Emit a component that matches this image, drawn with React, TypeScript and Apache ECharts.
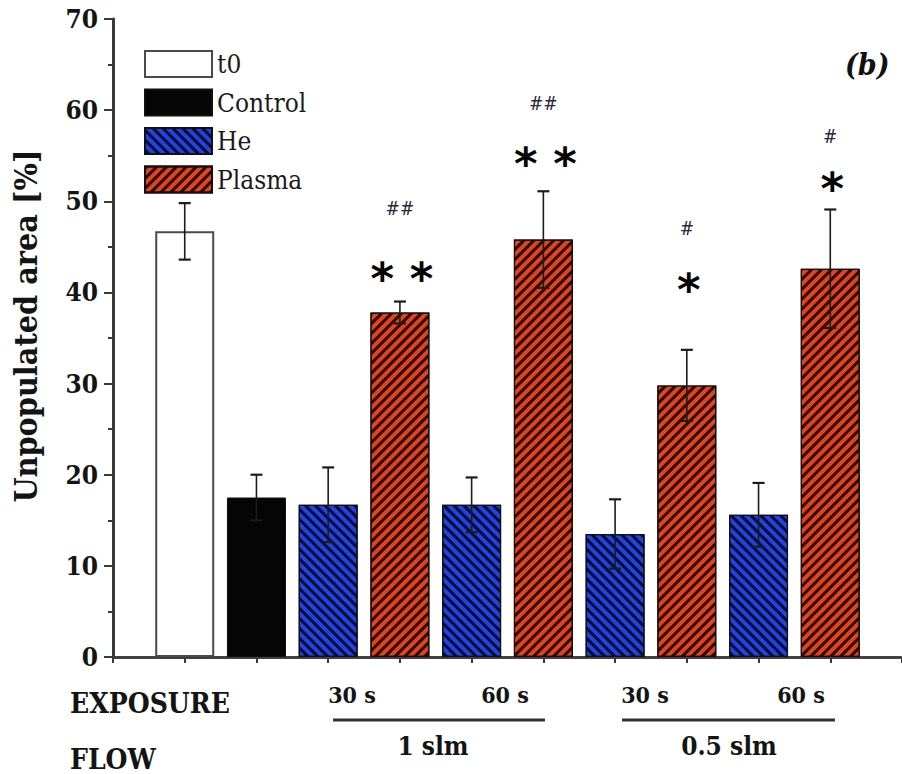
import { useEffect, useRef } from "react";
import * as echarts from "echarts";

// Group slots along the horizontal axis (0 .. 11 span)
const t0X = [1];
const t0Mean = [46.7];
const t0Err = [3.1];

const controlX = [2];
const controlMean = [17.5];
const controlErr = [2.5];

const heX = [3, 5, 7, 9];
const heMean = [16.7, 16.7, 13.5, 15.6];
const heErr = [4.1, 3.0, 3.8, 3.5];

const plasmaX = [4, 6, 8, 10];
const plasmaMean = [37.8, 45.8, 29.8, 42.6];
const plasmaErr = [1.2, 5.3, 3.9, 6.5];

// Significance marks above the plasma bars
const starText = ["* *", "* *", "*", "*"];
const starY = [42.2, 54.8, 41.0, 52.1];
const hashText = ["##", "##", "#", "#"];
const hashY = [49.3, 60.8, 47.1, 57.2];

const legendNames = ["t0", "Control", "He", "Plasma"];
const exposureLabels = ["30 s", "60 s", "30 s", "60 s"];
const flowLabels = ["1 slm", "0.5 slm"];

const SERIF = "DejaVu Serif Condensed, DejaVu Serif";
const STAR_FONT = "DejaVu Sans";
const BLUE = "#2142e4";
const RED = "#e2431d";
const AXIS = "#3a3a3a";

const pairs = (xs: number[], ys: number[]) => xs.map((x, i) => [x, ys[i]]);
const triples = (xs: number[], ys: number[], es: number[]) =>
  xs.map((x, i) => [x, ys[i], es[i]]);

export default function App() {
  const ref = useRef<HTMLDivElement>(null);

  useEffect(() => {
    if (!ref.current) return;
    const chart = echarts.init(ref.current, null, { renderer: "svg" });

    const errData = [
      ...triples(t0X, t0Mean, t0Err),
      ...triples(controlX, controlMean, controlErr),
      ...triples(heX, heMean, heErr),
      ...triples(plasmaX, plasmaMean, plasmaErr),
    ];

    const markData = [
      ...plasmaX.map((x, i) => [x, starY[i], 0, i]),
      ...plasmaX.map((x, i) => [x, hashY[i], 1, i]),
    ];

    const barCommon = {
      type: "bar" as const,
      barWidth: 59,
      barGap: "-100%",
      xAxisIndex: 0,
      yAxisIndex: 0,
    };

    const option: any = {
      animation: false,
      backgroundColor: "#ffffff",
      grid: { left: 113, top: 19, right: 0, bottom: 117, outerBoundsMode: "none", containLabel: false },
      legend: {
        data: legendNames,
        orient: "vertical",
        left: 144,
        top: 50,
        padding: 0,
        itemWidth: 67,
        itemHeight: 26,
        itemGap: 10.5,
        icon: "rect",
        textStyle: { fontFamily: SERIF, fontSize: 26, color: "#1a1a1a" },
      },
      xAxis: [
        {
          type: "value",
          min: 0,
          max: 11,
          interval: 1,
          position: "bottom",
          axisLine: { show: true, lineStyle: { color: AXIS, width: 2.5 } },
          axisTick: { show: false },
          axisLabel: { show: false },
          splitLine: { show: false },
        },
        {
          type: "value",
          min: 0,
          max: 11,
          interval: 1,
          position: "top",
          axisLine: { show: true, lineStyle: { color: AXIS, width: 2.5 } },
          axisTick: { show: true, inside: true, length: 6, lineStyle: { color: AXIS, width: 2 } },
          axisLabel: { show: false },
          splitLine: { show: false },
        },
      ],
      yAxis: [
        {
          type: "value",
          min: 0,
          max: 70,
          interval: 10,
          position: "left",
          name: "Unpopulated area [%]",
          nameLocation: "middle",
          nameRotate: 90,
          nameGap: 71,
          nameTextStyle: {
            fontFamily: SERIF,
            fontWeight: "bold",
            fontSize: 32,
            color: "#141414",
            padding: [0, 0, 0, 24],
          },
          axisLine: { show: true, lineStyle: { color: AXIS, width: 3 } },
          axisTick: { show: true, inside: false, length: 9, lineStyle: { color: AXIS, width: 2 } },
          minorTick: { show: true, splitNumber: 2, length: 5, lineStyle: { color: AXIS, width: 2 } },
          axisLabel: { fontFamily: SERIF, fontWeight: "bold", fontSize: 26, color: "#141414", margin: 15 },
          splitLine: { show: false },
        },
        {
          type: "value",
          min: 0,
          max: 70,
          interval: 10,
          position: "right",
          axisLine: { show: true, lineStyle: { color: AXIS, width: 2.5 } },
          axisTick: { show: true, inside: true, length: 8, lineStyle: { color: AXIS, width: 2 } },
          minorTick: { show: true, splitNumber: 2, length: 4, lineStyle: { color: AXIS, width: 2 } },
          axisLabel: { show: false },
          splitLine: { show: false },
        },
      ],
      series: [
        {
          ...barCommon,
          name: "t0",
          data: pairs(t0X, t0Mean),
          itemStyle: { color: "#ffffff", borderColor: "#4a4a4a", borderWidth: 2 },
        },
        {
          ...barCommon,
          name: "Control",
          data: pairs(controlX, controlMean),
          itemStyle: { color: "#050505", borderColor: "#111", borderWidth: 1 },
        },
        {
          ...barCommon,
          name: "He",
          data: pairs(heX, heMean),
          itemStyle: {
            color: BLUE,
            borderColor: "#111",
            borderWidth: 1.2,
            decal: {
              symbol: "rect",
              symbolSize: 1,
              dashArrayX: [1, 0],
              dashArrayY: [2.2, 3.4],
              rotation: Math.PI / 4,
              color: "rgba(8,8,30,0.92)",
            },
          },
        },
        {
          ...barCommon,
          name: "Plasma",
          data: pairs(plasmaX, plasmaMean),
          itemStyle: {
            color: RED,
            borderColor: "#111",
            borderWidth: 1.2,
            decal: {
              symbol: "rect",
              symbolSize: 1,
              dashArrayX: [1, 0],
              dashArrayY: [2.2, 3.4],
              rotation: -Math.PI / 4,
              color: "rgba(25,5,5,0.92)",
            },
          },
        },
        {
          type: "custom",
          name: "error",
          xAxisIndex: 0,
          yAxisIndex: 0,
          z: 5,
          data: errData,
          renderItem: (params: any, api: any) => {
            const x = api.value(0);
            const m = api.value(1);
            const e = api.value(2);
            const top = api.coord([x, m + e]);
            const bot = api.coord([x, m - e]);
            const cap = 6;
            const st = { stroke: "#1c1c1c", lineWidth: 1.6 };
            return {
              type: "group",
              children: [
                { type: "line", shape: { x1: top[0], y1: top[1], x2: bot[0], y2: bot[1] }, style: st },
                { type: "line", shape: { x1: top[0] - cap, y1: top[1], x2: top[0] + cap, y2: top[1] }, style: { ...st, lineWidth: 2.2 } },
                { type: "line", shape: { x1: bot[0] - cap, y1: bot[1], x2: bot[0] + cap, y2: bot[1] }, style: { ...st, lineWidth: 2.2 } },
              ],
            };
          },
        },
        {
          type: "custom",
          name: "marks",
          xAxisIndex: 0,
          yAxisIndex: 0,
          z: 6,
          data: markData,
          renderItem: (params: any, api: any) => {
            const x = api.value(0);
            const y = api.value(1);
            const kind = api.value(2);
            const idx = api.value(3);
            const p = api.coord([x, y]);
            if (kind === 0) {
              return {
                type: "text",
                x: p[0] + 2,
                y: p[1] + 6,
                style: {
                  text: starText[idx],
                  font: `bold 45px ${STAR_FONT}`,
                  fill: "#050505",
                  textAlign: "center",
                  textVerticalAlign: "middle",
                },
              };
            }
            return {
              type: "text",
              x: p[0],
              y: p[1],
              style: {
                text: hashText[idx],
                font: `19px ${SERIF}`,
                fill: "#2a2a3a",
                textAlign: "center",
                textVerticalAlign: "middle",
              },
            };
          },
        },
      ],
      graphic: [
        {
          type: "text",
          left: 845,
          top: 49,
          style: { text: "(b)", font: `italic bold 30px ${SERIF}`, fill: "#111" },
        },
        {
          type: "text",
          x: 70,
          y: 703,
          style: { text: "EXPOSURE", font: `bold 28px ${SERIF}`, fill: "#141414", textVerticalAlign: "middle" },
        },
        ...[352, 505, 645, 801].map((cx, i) => ({
          type: "text",
          x: cx,
          y: 694,
          style: {
            text: exposureLabels[i],
            font: `bold 23px ${SERIF}`,
            fill: "#141414",
            textAlign: "center",
            textVerticalAlign: "middle",
          },
        })),
        {
          type: "line",
          shape: { x1: 333, y1: 720, x2: 545, y2: 720 },
          style: { stroke: "#333", lineWidth: 3 },
        },
        {
          type: "line",
          shape: { x1: 622, y1: 720, x2: 835, y2: 720 },
          style: { stroke: "#333", lineWidth: 3 },
        },
        ...[433, 729].map((cx, i) => ({
          type: "text",
          x: cx,
          y: 746,
          style: {
            text: flowLabels[i],
            font: `bold 26px ${SERIF}`,
            fill: "#141414",
            textAlign: "center",
            textVerticalAlign: "middle",
          },
        })),
        {
          type: "text",
          x: 70,
          y: 759,
          style: { text: "FLOW", font: `bold 28px ${SERIF}`, fill: "#141414", textVerticalAlign: "middle" },
        },
      ],
    };

    chart.setOption(option);
    return () => chart.dispose();
  }, []);

  return (
    <div
      ref={ref}
      style={{ position: "absolute", left: 0, top: 0, width: 902, height: 774, background: "#fff" }}
    />
  );
}
